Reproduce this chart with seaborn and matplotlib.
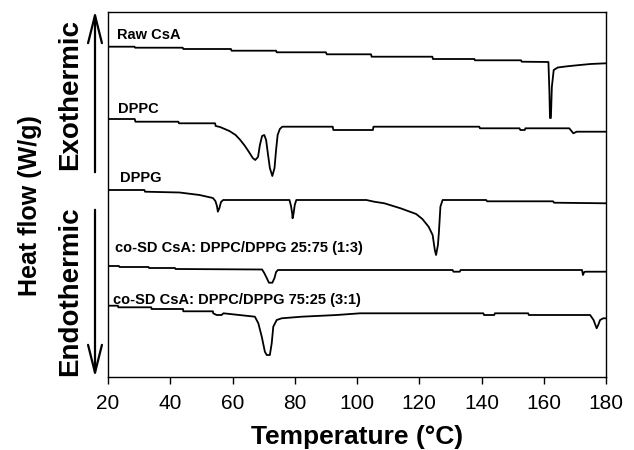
import matplotlib
matplotlib.use("Agg")
import matplotlib.pyplot as plt
from matplotlib.patches import FancyArrowPatch
import seaborn as sns
import pandas as pd

# ---- data (temperature in °C, vertical offset of trace, larger = lower on plot) ----
raw_T = [20, 28.5, 28.7, 44, 44.2, 59.5, 59.7, 74, 74.2, 90, 90.3, 104.5, 104.7, 124.2, 124.4,
         137.7, 137.9, 152.7, 152.9, 161.5, 161.8, 162.0, 162.3, 162.6, 163.2, 164.5, 167, 170, 175, 180]
raw_y = [46.7, 46.7, 47.7, 47.7, 49, 49, 50.7, 50.7, 52.3, 52.3, 54.3, 54.3, 56.7, 56.7, 59,
         59, 60.3, 60.3, 61.7, 62, 90, 118, 118, 87, 70, 67.5, 66.5, 65.5, 64, 63.3]

dppc_T = [20, 28.6, 28.8, 42.6, 42.8, 54.4, 54.6, 56, 57.5, 59, 61, 62.5, 64, 65.5, 66.5, 67.3,
          68.2, 68.8, 69.5, 70.2, 70.8, 71.3, 72, 72.8, 73.5, 74, 74.5, 75.2, 76, 92.2, 92.4,
          105.1, 105.3, 139.3, 139.5, 152.2, 152.5, 153.9, 154.1, 168.2, 169.5, 170.6, 180]
dppc_y = [119, 119, 121.7, 121.7, 123.3, 123.3, 126, 127, 129, 131, 135, 140, 146, 153, 158, 160,
          157, 145, 136, 135, 140, 152, 168, 176, 168, 150, 135, 129, 126.7, 126.7, 130,
          130, 126.7, 126.7, 128.3, 128.3, 130, 130, 128.3, 128.3, 133.3, 131.7, 131.7]

dppg_T = [20, 31.7, 31.9, 43, 49.4, 53.7, 54.5, 55, 55.3, 55.8, 56.3, 57, 78.3, 78.8, 79.2, 79.3,
          79.6, 80, 80.5, 103, 105.5, 108.8, 114, 119, 121, 123, 124.3, 125, 125.4, 126, 126.3,
          126.8, 127.5, 141.5, 141.8, 163, 163.3, 180]
dppg_y = [190, 190, 191.7, 192.5, 195, 198, 201, 206, 211.7, 208, 202, 200, 200, 206, 214, 218.3,
          214, 205, 200, 200, 201.7, 203.3, 208.3, 214, 219, 226.7, 235, 250, 255, 245, 233,
          206.7, 200, 200, 201.3, 201.3, 202.7, 203.3]

mix13_T = [20, 23.5, 23.7, 33, 33.2, 41.5, 41.7, 69.5, 70.2, 71, 71.7, 72.8, 73.5, 74, 74.6,
           130.7, 131, 133, 133.3, 172.3, 172.6, 173, 173.5, 180]
mix13_y = [266, 266, 267, 267, 268, 268, 269, 269.5, 273, 278, 282.7, 282.7, 278, 272, 270,
           270, 271.7, 271.7, 270, 270, 275, 272, 271.7, 271.7]

mix31_T = [20, 23.2, 23.3, 33.9, 34, 44.1, 44.2, 53.7, 53.8, 54.9, 56.5, 57.1, 67.2, 68.3, 69.4,
           70.4, 71, 72, 72.6, 73.1, 74.2, 75.8, 82.2, 93.5, 101, 140.6, 140.8, 144.1, 144.3,
           155, 155.2, 174.9, 176, 177, 177.5, 178.1, 179.1, 180]
mix31_y = [305.7, 305.7, 307.3, 307.3, 309, 309, 311.3, 311.3, 313.3, 315, 315, 313.3, 316.7, 323.3, 336.7,
           351.7, 355, 355, 343.3, 326.7, 320, 318.3, 316.7, 315, 313.3, 313.3, 315, 315, 313.3,
           313.3, 315, 315, 320, 328.3, 325, 320, 318.3, 318.3]

labels = ["Raw CsA", "DPPC", "DPPG",
          "co-SD CsA: DPPC/DPPG 25:75 (1:3)", "co-SD CsA: DPPC/DPPG 75:25 (3:1)"]
series = [(raw_T, raw_y), (dppc_T, dppc_y), (dppg_T, dppg_y), (mix13_T, mix13_y), (mix31_T, mix31_y)]
xticks = [20, 40, 60, 80, 100, 120, 140, 160, 180]

frames = []
for lab, (t, y) in zip(labels, series):
    frames.append(pd.DataFrame({"T": t, "y": y, "sample": lab}))
df = pd.concat(frames, ignore_index=True)

sns.set_style("ticks")
plt.rcParams["font.family"] = ["Liberation Sans", "DejaVu Sans"]
plt.rcParams["text.color"] = "black"
plt.rcParams["axes.labelcolor"] = "black"
plt.rcParams["xtick.color"] = "black"
plt.rcParams["axes.edgecolor"] = "black"

fig = plt.figure(figsize=(6.34, 4.5), dpi=100)
ax = fig.add_axes([108 / 634, 1 - 377 / 450, (606 - 108) / 634, (377 - 12) / 450])

sns.lineplot(data=df, x="T", y="y", hue="sample", palette=["black"] * 5, estimator=None,
             sort=False, legend=False, linewidth=1.3, ax=ax)

ax.set_xlim(20, 180)
ax.set_ylim(377, 12)
ax.set_xticks(xticks)
ax.set_xticklabels([str(v) for v in xticks])
ax.set_yticks([])
ax.set_ylabel("")
ax.set_xlabel("Temperature (°C)", fontsize=19, fontweight="bold", labelpad=9, color="black")
ax.tick_params(axis="x", labelsize=15, length=5, width=1, direction="out", pad=7,
               color="black", labelcolor="black")
for s in ax.spines.values():
    s.set_visible(True)
    s.set_color("black")
    s.set_linewidth(1.0)

label_pos = [(22.9, 39.3), (23.2, 113.3), (23.9, 181.7), (22.2, 252.3), (21.6, 304.3)]
for lab, (x, y) in zip(labels, label_pos):
    ax.text(x, y, lab, fontsize=10.5, fontweight="bold", va="baseline", ha="left", color="black")

# left side annotations
fig.text(30 / 634, 1 - 206 / 450, "Heat flow (W/g)", rotation=90, fontsize=18,
         fontweight="bold", ha="center", va="center", color="black")
fig.text(70 / 634, 1 - 95 / 450, "Exothermic", rotation=90, fontsize=20,
         fontweight="bold", ha="center", va="center", color="black")
fig.text(70 / 634, 1 - 291 / 450, "Endothermic", rotation=90, fontsize=20,
         fontweight="bold", ha="center", va="center", color="black")

up = FancyArrowPatch((95 / 634, 1 - 175 / 450), (95 / 634, 1 - 8 / 450), transform=fig.transFigure,
                     arrowstyle="->,head_length=2.0,head_width=0.5", mutation_scale=10,
                     lw=1.6, color="black")
down = FancyArrowPatch((95 / 634, 1 - 207 / 450), (95 / 634, 1 - 380 / 450), transform=fig.transFigure,
                       arrowstyle="->,head_length=2.0,head_width=0.5", mutation_scale=10,
                       lw=1.6, color="black")
fig.add_artist(up)
fig.add_artist(down)

fig.savefig("out.png", dpi=100)
